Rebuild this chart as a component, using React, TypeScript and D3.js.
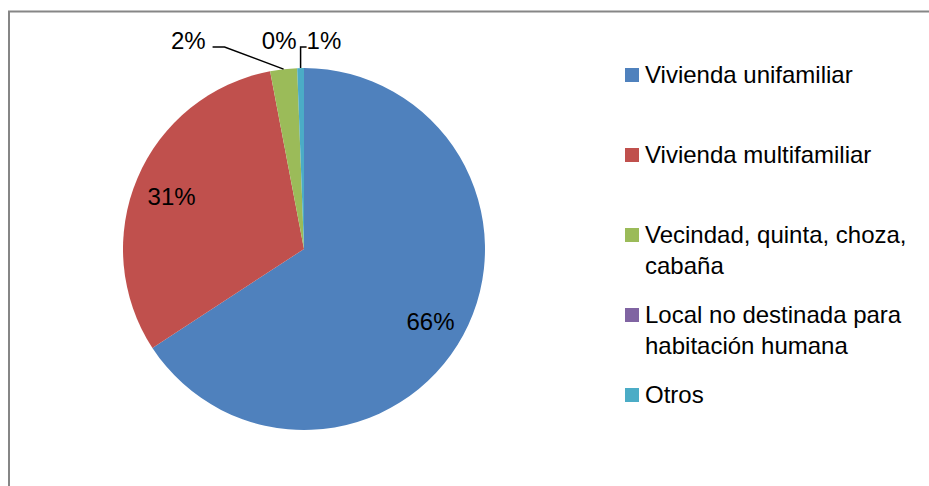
import * as d3 from 'd3';

const categories = [
  'Vivienda unifamiliar',
  'Vivienda multifamiliar',
  'Vecindad, quinta, choza, cabaña',
  'Local no destinada para habitación humana',
  'Otros',
];
const legendLines = [
  ['Vivienda unifamiliar'],
  ['Vivienda multifamiliar'],
  ['Vecindad, quinta, choza,', 'cabaña'],
  ['Local no destinada para', 'habitación humana'],
  ['Otros'],
];
const values = [65.8, 31.2, 2.4, 0, 0.6];
const colors = ['#4F81BD', '#C0504D', '#9BBB59', '#8064A2', '#4BACC6'];

const W = 929;
const H = 486;
const cx = 304;
const cy = 249;
const R = 181;
const font = '"Liberation Sans", Arial, sans-serif';

export default function App() {
  const pie = d3.pie<number>().sort(null).value(d => d)(values);
  const arc = d3.arc<d3.PieArcDatum<number>>().innerRadius(0).outerRadius(R);
  const total = d3.sum(values);
  const pct = (v: number) => `${Math.round((v / total) * 100)}%`;

  // point on the rim at the slice's middle angle
  const onEdge = (a: d3.PieArcDatum<number>) => {
    const m = (a.startAngle + a.endAngle) / 2;
    return [Math.sin(m) * R, -Math.cos(m) * R];
  };
  const inside = (a: d3.PieArcDatum<number>) => {
    const m = (a.startAngle + a.endAngle) / 2;
    return [Math.sin(m) * R * 0.795, -Math.cos(m) * R * 0.795];
  };

  const labelY = -R - 19;

  const legendY = d3.scaleLinear().domain([0, 1]).range([83, 163]);

  return (
    <svg width={W} height={H} style={{ position: 'fixed', left: 0, top: 0, background: '#fff' }}>
      <rect x={9} y={11.5} width={W + 10} height={H + 10} fill="#fff" stroke="#868686" strokeWidth={2} />
      <g transform={`translate(${cx},${cy})`}>
        {pie.map((a, i) => (
          <path key={i} d={arc(a) ?? ''} fill={colors[i]} />
        ))}
        {pie.map((a, i) => {
          const [x, y] = inside(a);
          if (i > 1) return null;
          return (
            <text key={`in${i}`} x={x} y={y} dy="0.5em" textAnchor="middle" fontFamily={font} fontSize={24} fill="#000">
              {pct(values[i])}
            </text>
          );
        })}
        {(() => {
          const [gx, gy] = onEdge(pie[2]);
          const endX = gx - 78;
          return (
            <g>
              <polyline
                points={`${gx},${gy} ${endX + 19},${labelY - 2} ${endX + 7},${labelY - 2}`}
                fill="none"
                stroke="#000"
                strokeWidth={1.5}
              />
              <text x={endX} y={labelY} textAnchor="end" fontFamily={font} fontSize={24}>
                {pct(values[2])}
              </text>
            </g>
          );
        })()}
        {(() => {
          const [px] = onEdge(pie[3]);
          return (
            <text x={px - 18} y={labelY} textAnchor="middle" fontFamily={font} fontSize={24}>
              {pct(values[3])}
            </text>
          );
        })()}
        {(() => {
          const [ox, oy] = onEdge(pie[4]);
          return (
            <g>
              <polyline
                points={`${ox},${oy} ${ox},${labelY - 2} ${ox + 6},${labelY - 2}`}
                fill="none"
                stroke="#000"
                strokeWidth={1.5}
              />
              <text x={ox + 6} y={labelY} textAnchor="start" fontFamily={font} fontSize={24}>
                {pct(values[4])}
              </text>
            </g>
          );
        })()}
      </g>
      <g>
        {categories.map((c, i) => {
          const y = legendY(i);
          return (
            <g key={c}>
              <rect x={625} y={y - 15} width={14} height={14} fill={colors[i]} />
              <text x={645} y={y} fontFamily={font} fontSize={24} fill="#000">
                {legendLines[i].map((ln, j) => (
                  <tspan key={j} x={645} dy={j === 0 ? 0 : 31}>
                    {ln}
                  </tspan>
                ))}
              </text>
            </g>
          );
        })}
      </g>
    </svg>
  );
}
